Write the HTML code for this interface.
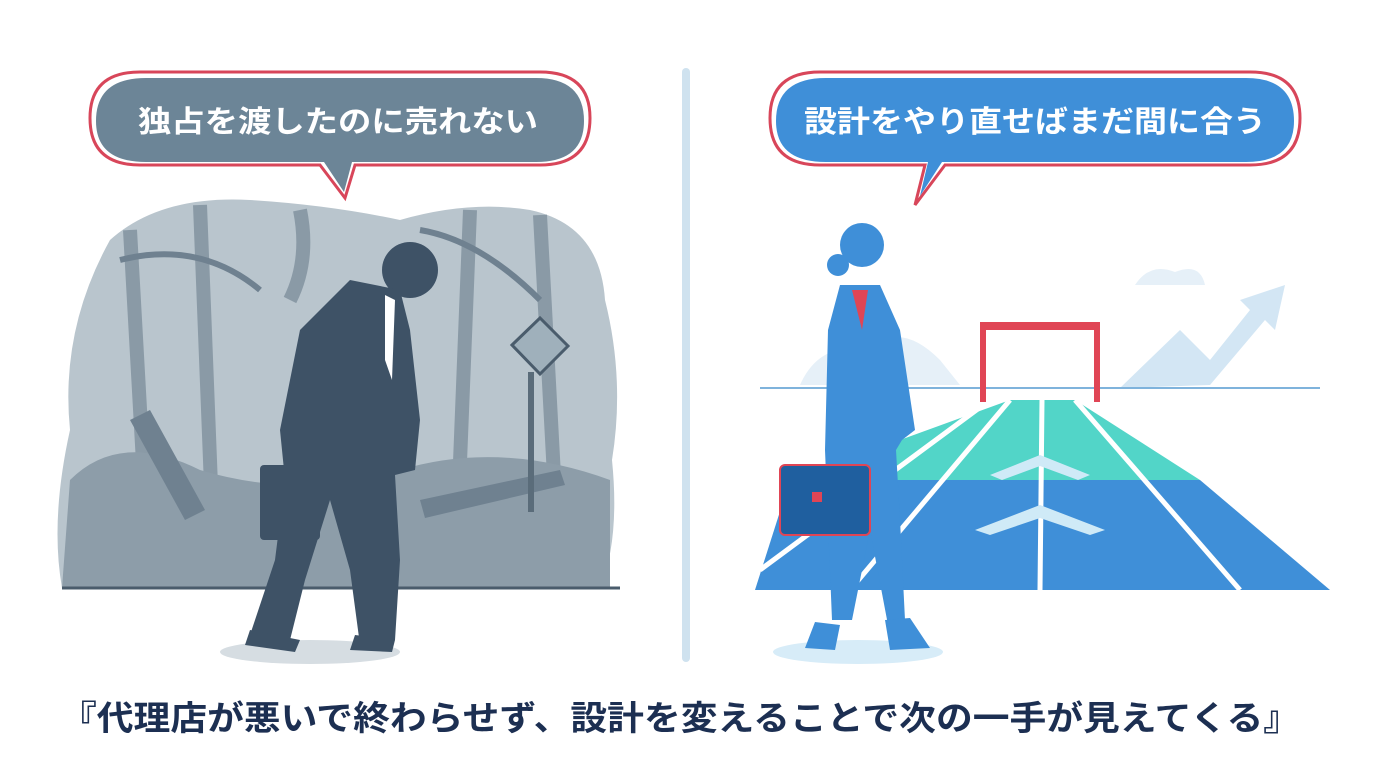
<!DOCTYPE html>
<html><head><meta charset="utf-8"><style>
html,body{margin:0;padding:0;background:#fff;width:1376px;height:768px;overflow:hidden}
svg{display:block}
text{font-family:"Liberation Sans","Noto Sans CJK JP",sans-serif;font-weight:bold}
</style></head><body>
<svg width="1376" height="768" viewBox="0 0 1376 768">
<rect width="1376" height="768" fill="#fff"/>
<!-- left bubble -->
<path d="M140,72 H540 Q590,72 590,118 Q590,165 540,165 H355 L345,198 L320,165 H140 Q90,165 90,118 Q90,72 140,72Z" fill="none" stroke="#d8465a" stroke-width="3"/>
<path d="M146,78 H536 Q584,78 584,121 Q584,162 536,162 H352 L344,192 L324,162 H146 Q96,162 96,121 Q96,78 146,78Z" fill="#6c8597"/>
<text x="338" y="132" font-size="30" fill="#fff" text-anchor="middle" textLength="400" lengthAdjust="spacingAndGlyphs">独占を渡したのに売れない</text>
<!-- left scene -->
<path d="M110,240 Q160,195 250,200 Q330,205 400,220 Q470,200 530,210 Q600,225 605,300 Q625,380 612,460 Q620,540 600,588 H62 Q50,520 70,430 Q60,330 110,240Z" fill="#b9c5cd"/>
<path d="M130,230 L150,588 M200,205 L215,588 M470,210 L455,588 M540,215 L560,588 M300,210 Q310,260 290,300" stroke="#8a9aa6" stroke-width="14" fill="none"/>
<path d="M120,260 Q200,240 260,290 M420,230 Q480,240 540,300" stroke="#6f8190" stroke-width="6" fill="none"/>
<path d="M70,480 Q120,430 200,470 Q300,500 400,470 Q500,440 610,480 V588 H62Z" fill="#8d9da9"/>
<path d="M130,420 L150,410 L205,510 L185,520Z" fill="#6f8190"/>
<path d="M420,500 L560,470 L565,485 L425,518Z" fill="#6f8190"/>
<path d="M512,345 L540,318 L568,346 L540,374Z" fill="#9fb0bb" stroke="#4a5c6c" stroke-width="3"/>
<rect x="528" y="372" width="6" height="140" fill="#5a6c7a"/>
<line x1="62" y1="588" x2="620" y2="588" stroke="#4a5c6c" stroke-width="3"/>
<ellipse cx="310" cy="652" rx="90" ry="12" fill="#d6dde2"/>
<!-- man -->
<g fill="#3e5266">
<circle cx="410" cy="270" r="28"/>
<path d="M350,280 L400,290 L410,330 L420,420 L415,470 L395,475 L400,560 L395,640 L360,645 L350,570 L330,500 L305,580 L290,640 L250,635 L275,560 L285,480 L280,430 L300,330Z"/>
<rect x="260" y="465" width="60" height="75" rx="4"/>
<path d="M250,630 L300,640 L295,652 L245,645Z M355,635 L395,640 L392,652 L350,650Z"/>
</g>
<path d="M385,295 L395,300 L392,380 L385,360Z" fill="#fff"/>
<!-- divider -->
<line x1="686" y1="72" x2="686" y2="658" stroke="#cfe2ef" stroke-width="8" stroke-linecap="round"/>
<!-- right bubble -->
<path d="M820,72 H1250 Q1300,72 1300,118 Q1300,165 1250,165 H945 L915,205 L925,165 H820 Q770,165 770,118 Q770,72 820,72Z" fill="none" stroke="#d8465a" stroke-width="3"/>
<path d="M826,78 H1246 Q1294,78 1294,121 Q1294,162 1246,162 H942 L920,196 L928,162 H826 Q776,162 776,121 Q776,78 826,78Z" fill="#3f8fd8"/>
<text x="1035" y="132" font-size="30" fill="#fff" text-anchor="middle" textLength="462" lengthAdjust="spacingAndGlyphs">設計をやり直せばまだ間に合う</text>
<!-- right scene -->
<path d="M800,385 Q820,340 870,350 Q900,320 940,360 L960,385Z" fill="#e6f0f8"/>
<path d="M1135,285 Q1150,262 1175,272 Q1200,262 1205,285Z" fill="#e6f0f8"/>
<path d="M1120,388 L1180,330 L1210,360 L1250,310 L1240,300 L1285,285 L1275,330 L1265,320 L1210,385Z" fill="#d3e6f4"/>
<line x1="760" y1="388" x2="1320" y2="388" stroke="#7fb3dc" stroke-width="2"/>
<path d="M1010,400 H1075 L1200,480 H790Z" fill="#52d5c8"/>
<path d="M790,480 H1200 L1330,590 H755Z" fill="#3f8fd8"/>
<path d="M1042,400 L1040,590 M1010,400 L850,590 M1075,400 L1240,590 M990,400 L760,570 M1095,400 L1320,560" stroke="#fff" stroke-width="5" fill="none"/>
<path d="M975,530 L1040,505 L1105,530 L1090,535 L1040,518 L990,535Z M990,475 L1040,455 L1090,475 L1078,480 L1040,466 L1002,480Z" fill="#cfeaf7"/>
<rect x="980" y="322" width="120" height="8" fill="#e04555"/>
<rect x="980" y="322" width="6" height="80" fill="#e04555"/>
<rect x="1094" y="322" width="6" height="80" fill="#e04555"/>
<ellipse cx="858" cy="652" rx="85" ry="12" fill="#d7ecf8"/>
<!-- woman -->
<g fill="#3f8fd8">
<circle cx="862" cy="245" r="22"/>
<circle cx="838" cy="265" r="11"/>
<path d="M840,285 L880,285 L900,330 L915,430 L902,440 L896,450 L900,520 L905,620 L888,625 L870,530 L852,620 L832,620 L825,450 L828,330Z"/>
<path d="M815,622 L840,625 L835,650 L805,648Z M885,620 L910,618 L930,648 L890,650Z"/>
</g>
<path d="M852,290 L868,290 L862,330Z" fill="#e04555"/>
<rect x="780" y="465" width="90" height="70" rx="5" fill="#1f5f9f" stroke="#e04555" stroke-width="2"/>
<rect x="812" y="492" width="10" height="10" fill="#e04555"/>
<!-- caption -->
<text x="680" y="730" font-size="34" fill="#1c2f52" text-anchor="middle" textLength="1240" lengthAdjust="spacingAndGlyphs">『代理店が悪いで終わらせず、設計を変えることで次の一手が見えてくる』</text>
</svg>
</body></html>
